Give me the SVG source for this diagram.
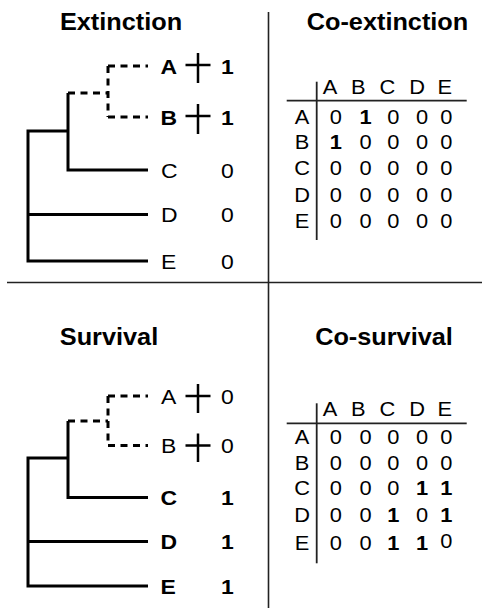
<svg xmlns="http://www.w3.org/2000/svg" width="482" height="611" viewBox="0 0 482 611">
  <style>
    .t { font-family: "Liberation Sans", Arial, sans-serif; fill: #000; }
    .title { font-size: 23px; font-weight: bold; text-anchor: middle; }
    .lab { font-size: 20.5px; }
    .val { font-size: 20.5px; text-anchor: middle; }
    .m { font-size: 19.5px; text-anchor: middle; }
    .b { font-weight: bold; }
    .tree { fill: none; stroke: #000; stroke-width: 3; stroke-linejoin: miter; }
    .dash { stroke-dasharray: 7 5.5; }
    .cross { fill: none; stroke: #000; stroke-width: 2.5; }
    .rule { fill: none; stroke: #222; stroke-width: 1.6; }
    .grid { fill: none; stroke: #222; stroke-width: 1.8; }
  </style>
  <rect width="482" height="611" fill="#fff"/>

  <!-- quadrant dividers -->
  <g id="dividers">
    <line class="rule" x1="268.5" y1="12" x2="268.5" y2="608"/>
    <line class="rule" x1="7" y1="282.5" x2="482" y2="282.5"/>
  </g>

  <!-- panel titles -->
  <g id="titles">
    <text class="t title" transform="translate(121,30) scale(1.1,1)">Extinction</text>
    <text class="t title" transform="translate(387.5,30) scale(1.1,1)">Co-extinction</text>
    <text class="t title" transform="translate(109,345) scale(1.1,1)">Survival</text>
    <text class="t title" transform="translate(384,345) scale(1.1,1)">Co-survival</text>
  </g>

  <!-- extinction tree -->
  <g id="tree-extinction">
    <g id="edges-extinction">
      <path class="tree" d="M68,93 V170 H148"/>
      <path class="tree" d="M68,131 H28 V261 H148"/>
      <path class="tree" d="M28,214.5 H148"/>
      <path class="tree dash" d="M68,93 H108"/>
      <path class="tree dash" d="M108,66 H148"/>
      <path class="tree dash" d="M108,66 V117"/>
      <path class="tree dash" d="M108,117 H148"/>
    </g>
    <g id="tip-ext-A">
      <text class="t lab b" transform="translate(160.5,73.5) scale(1.12,1)">A</text>
      <path class="cross" d="M185.5,65 H210.5 M198,53 V83"/>
      <text class="t val b" transform="translate(227.5,73.5) scale(1.12,1)">1</text>
    </g>
    <g id="tip-ext-B">
      <text class="t lab b" transform="translate(160.5,124.5) scale(1.12,1)">B</text>
      <path class="cross" d="M185.5,116 H210.5 M198,104 V134"/>
      <text class="t val b" transform="translate(227.5,124.5) scale(1.12,1)">1</text>
    </g>
    <g id="tip-ext-C">
      <text class="t lab" transform="translate(161,177.5) scale(1.12,1)">C</text>
      <text class="t val" transform="translate(227.5,177.5) scale(1.12,1)">0</text>
    </g>
    <g id="tip-ext-D">
      <text class="t lab" transform="translate(161,222) scale(1.12,1)">D</text>
      <text class="t val" transform="translate(227.5,222) scale(1.12,1)">0</text>
    </g>
    <g id="tip-ext-E">
      <text class="t lab" transform="translate(161,268.5) scale(1.12,1)">E</text>
      <text class="t val" transform="translate(227.5,268.5) scale(1.12,1)">0</text>
    </g>
  </g>

  <!-- survival tree -->
  <g id="tree-survival">
    <g id="edges-survival">
      <path class="tree" d="M68,421 V497.5 H148"/>
      <path class="tree" d="M68,458 H28 V586 H148"/>
      <path class="tree" d="M28,541.5 H148"/>
      <path class="tree dash" d="M68,421 H108"/>
      <path class="tree dash" d="M108,396 H148"/>
      <path class="tree dash" d="M108,396 V445.5"/>
      <path class="tree dash" d="M108,445.5 H148"/>
    </g>
    <g id="tip-surv-A">
      <text class="t lab" transform="translate(161,403.5) scale(1.12,1)">A</text>
      <path class="cross" d="M185.5,396 H210.5 M198,384 V413"/>
      <text class="t val" transform="translate(227.5,403.5) scale(1.12,1)">0</text>
    </g>
    <g id="tip-surv-B">
      <text class="t lab" transform="translate(161,453) scale(1.12,1)">B</text>
      <path class="cross" d="M185.5,445.5 H210.5 M198,433.5 V462"/>
      <text class="t val" transform="translate(227.5,453) scale(1.12,1)">0</text>
    </g>
    <g id="tip-surv-C">
      <text class="t lab b" transform="translate(160.5,505) scale(1.12,1)">C</text>
      <text class="t val b" transform="translate(227.5,505) scale(1.12,1)">1</text>
    </g>
    <g id="tip-surv-D">
      <text class="t lab b" transform="translate(160.5,549) scale(1.12,1)">D</text>
      <text class="t val b" transform="translate(227.5,549) scale(1.12,1)">1</text>
    </g>
    <g id="tip-surv-E">
      <text class="t lab b" transform="translate(160.5,593.5) scale(1.12,1)">E</text>
      <text class="t val b" transform="translate(227.5,593.5) scale(1.12,1)">1</text>
    </g>
  </g>

  <!-- co-extinction matrix -->
  <g id="matrix-coextinction">
    <line class="grid" x1="286.7" y1="100.7" x2="466.7" y2="100.7"/>
    <line class="grid" x1="316.7" y1="81.7" x2="316.7" y2="240"/>
    <g transform="translate(316.7,0) scale(1.12,1)" class="t m">
      <text x="11.9" y="94">A</text><text x="37.2" y="94">B</text><text x="63.2" y="94">C</text><text x="89.6" y="94">D</text><text x="114.3" y="94">E</text>
      <text x="-13.1" y="124">A</text>
      <text x="17" y="124">0</text><text x="43.7" y="124" class="b">1</text><text x="68.4" y="124">0</text><text x="94" y="124">0</text><text x="115.7" y="124">0</text>
      <text x="-13.1" y="149">B</text>
      <text x="17" y="149" class="b">1</text><text x="43.7" y="149">0</text><text x="68.4" y="149">0</text><text x="94" y="149">0</text><text x="115.7" y="149">0</text>
      <text x="-13.1" y="175.5">C</text>
      <text x="17" y="175.5">0</text><text x="43.7" y="175.5">0</text><text x="68.4" y="175.5">0</text><text x="94" y="175.5">0</text><text x="115.7" y="175.5">0</text>
      <text x="-13.1" y="202">D</text>
      <text x="17" y="202">0</text><text x="43.7" y="202">0</text><text x="68.4" y="202">0</text><text x="94" y="202">0</text><text x="115.7" y="202">0</text>
      <text x="-13.1" y="228.5">E</text>
      <text x="17" y="228.5">0</text><text x="43.7" y="228.5">0</text><text x="68.4" y="228.5">0</text><text x="94" y="228.5">0</text><text x="115.7" y="228.5">0</text>
    </g>
  </g>

  <!-- co-survival matrix -->
  <g id="matrix-cosurvival">
    <line class="grid" x1="286.7" y1="423.3" x2="466.7" y2="423.3"/>
    <line class="grid" x1="316.7" y1="403.3" x2="316.7" y2="563.3"/>
    <g transform="translate(316.7,0) scale(1.12,1)" class="t m">
      <text x="11.9" y="416.5">A</text><text x="37.2" y="416.5">B</text><text x="63.2" y="416.5">C</text><text x="89.6" y="416.5">D</text><text x="114.3" y="416.5">E</text>
      <text x="-13.1" y="444.5">A</text>
      <text x="17" y="444.5">0</text><text x="43.7" y="444.5">0</text><text x="68.4" y="444.5">0</text><text x="94" y="444.5">0</text><text x="115.7" y="444.5">0</text>
      <text x="-13.1" y="470">B</text>
      <text x="17" y="470">0</text><text x="43.7" y="470">0</text><text x="68.4" y="470">0</text><text x="94" y="470">0</text><text x="115.7" y="470">0</text>
      <text x="-13.1" y="495.5">C</text>
      <text x="17" y="495.5">0</text><text x="43.7" y="495.5">0</text><text x="68.4" y="495.5">0</text><text x="94" y="495.5" class="b">1</text><text x="115.7" y="495.5" class="b">1</text>
      <text x="-13.1" y="522">D</text>
      <text x="17" y="522">0</text><text x="43.7" y="522">0</text><text x="68.4" y="522" class="b">1</text><text x="94" y="522">0</text><text x="115.7" y="522" class="b">1</text>
      <text x="-13.1" y="550.5">E</text>
      <text x="17" y="550.5">0</text><text x="43.7" y="550.5">0</text><text x="68.4" y="550.5" class="b">1</text><text x="94" y="550.5" class="b">1</text><text x="115.7" y="548.5">0</text>
    </g>
  </g>
</svg>
